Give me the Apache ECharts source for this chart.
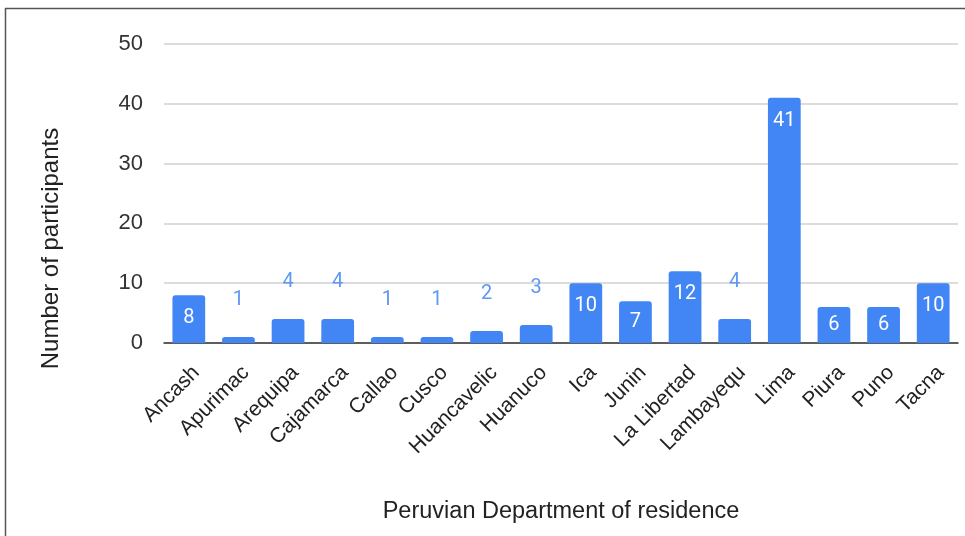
<!DOCTYPE html>
<html><head><meta charset="utf-8">
<script src="https://cdn.jsdelivr.net/npm/echarts@6/dist/echarts.min.js"></script>
<style>html,body{margin:0;padding:0;background:#fff}#c{width:965px;height:536px}</style>
</head><body><div id="c"></div>
<script>
const categories = ["Ancash","Apurimac","Arequipa","Cajamarca","Callao","Cusco","Huancavelic","Huanuco","Ica","Junin","La Libertad","Lambayequ","Lima","Piura","Puno","Tacna"];
const values = [8,1,4,4,1,1,2,3,10,7,12,4,41,6,6,10];
const yTicks = [0,10,20,30,40,50];
const insideThreshold = 6;
const centeredBelow = 8;

const chart = echarts.init(document.getElementById('c'));
const insideStyle = {show:true, color:'#fff', fontFamily:'Roboto', fontSize:20};
chart.setOption({
  animation: false,
  graphic: [
    {type:'line', shape:{x1:5,y1:8.5,x2:965,y2:8.5}, style:{stroke:'#555',lineWidth:1.5}},
    {type:'line', shape:{x1:5.5,y1:8,x2:5.5,y2:536}, style:{stroke:'#555',lineWidth:1.5}}
  ],
  grid: {left:164, right:7, top:44, bottom:193},
  xAxis: {
    type:'category', data:categories,
    name:'Peruvian Department of residence', nameLocation:'middle', nameGap:157,
    nameTextStyle:{fontFamily:'Liberation Sans, Arial', fontSize:23.5, color:'#222'},
    axisLine:{lineStyle:{color:'#333', width:1.5}},
    axisTick:{show:false},
    axisLabel:{rotate:45, interval:0, fontFamily:'Liberation Sans, Arial', fontSize:21, color:'#222', margin:19, verticalAlign:'top'}
  },
  yAxis: {
    type:'value', min:yTicks[0], max:yTicks[yTicks.length-1], interval:10,
    name:'Number of participants', nameLocation:'middle', nameGap:101,
    nameTextStyle:{fontFamily:'Liberation Sans, Arial', fontSize:24, color:'#222', padding:[0,110,0,0]},
    axisLine:{show:false}, axisTick:{show:false},
    axisLabel:{fontFamily:'Liberation Sans, Arial', fontSize:22, color:'#333', margin:21},
    splitLine:{lineStyle:{color:'#d0d0d0', width:1.5}}
  },
  series: [{
    type:'bar', barCategoryGap:'34%',
    itemStyle:{color:'#4285f4', borderRadius:[3,3,0,0]},
    data: values.map(v => ({
      value: v,
      label: v >= insideThreshold
        ? (v < centeredBelow
            ? Object.assign({position:'inside'}, insideStyle)
            : Object.assign({position:'insideTop', distance:13}, insideStyle))
        : {show:true, position:'top', distance:27, color:'#5e97f6', fontFamily:'Roboto', fontSize:20}
    }))
  }]
});
</script></body></html>
